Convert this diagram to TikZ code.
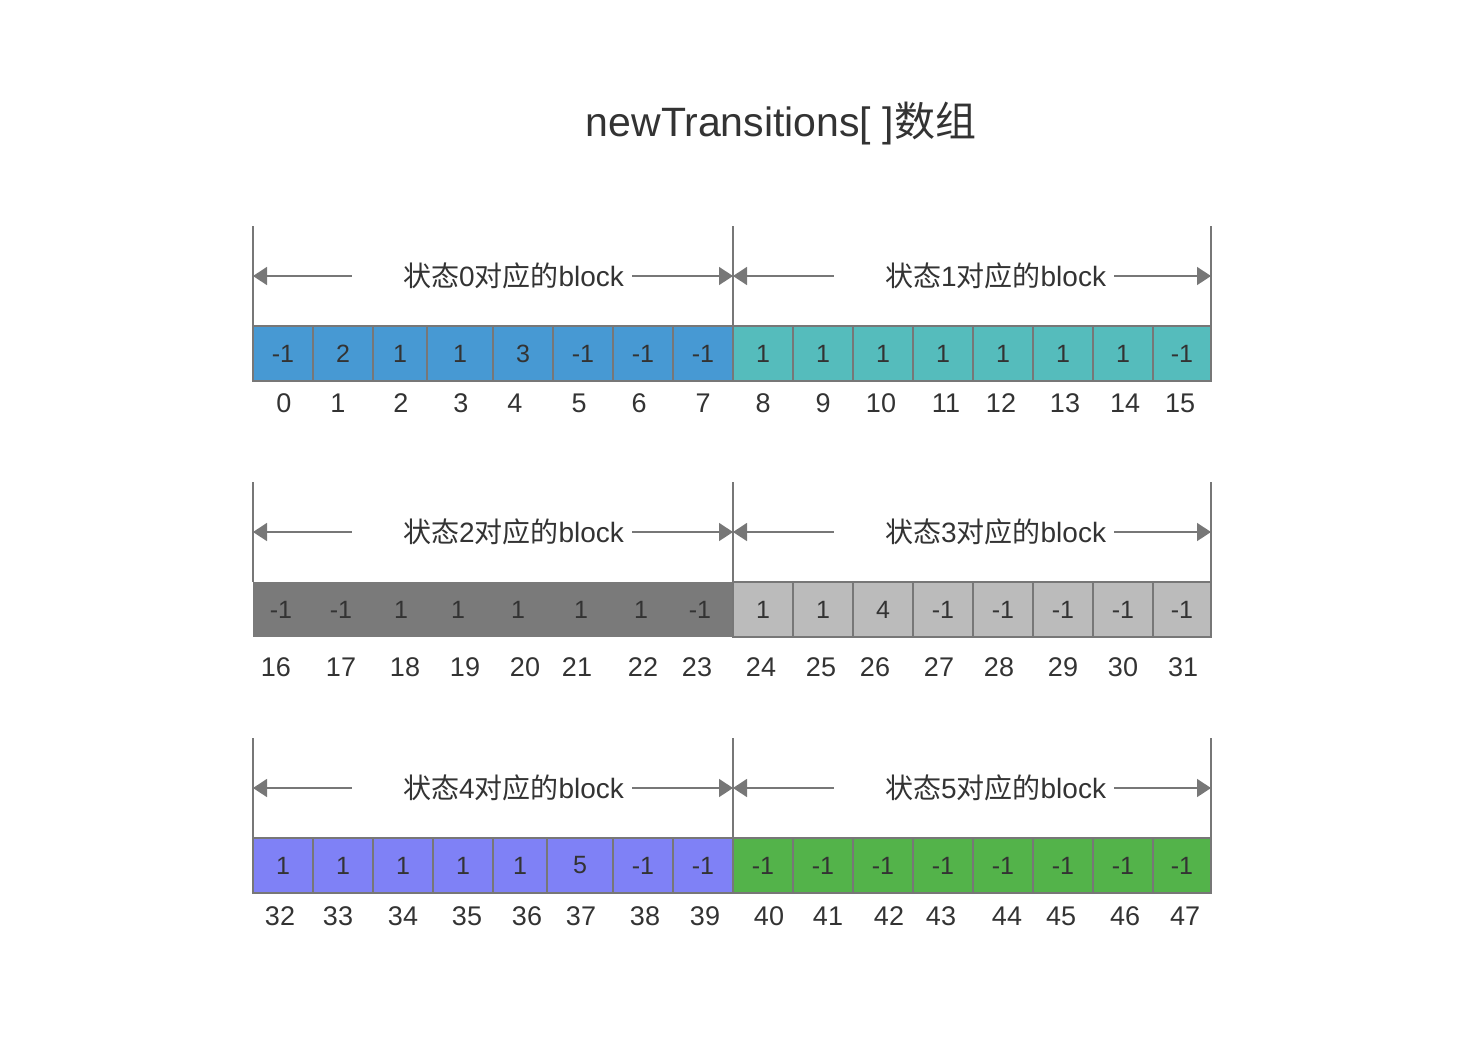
\documentclass[tikz,border=0pt]{standalone}
\usepackage{fontspec}
\setmainfont{Liberation Sans}
\newfontfamily\cjk{Noto Sans CJK SC}
\usetikzlibrary{arrows.meta}

\definecolor{txtgray}{HTML}{333333}
\definecolor{linegray}{HTML}{777777}
\definecolor{cellblue}{HTML}{4799D3}
\definecolor{cellteal}{HTML}{55BCBC}
\definecolor{celldark}{HTML}{7A7A7A}
\definecolor{celllight}{HTML}{BBBBBB}
\definecolor{cellviolet}{HTML}{7F81F6}
\definecolor{cellgreen}{HTML}{53B34A}

\begin{document}
\begin{tikzpicture}[x=0.5pt, y=-0.5pt, text=txtgray,
    cell/.style={draw=linegray, line width=1pt, inner sep=0pt, outer sep=0pt,
                 minimum height=27.5pt, font=\fontsize{12.5}{13}\selectfont},
    val/.style={inner sep=0pt, font=\fontsize{12.5}{13}\selectfont},
    idx/.style={inner sep=0pt, font=\fontsize{13.5}{14}\selectfont},
    blklabel/.style={minimum width=140pt, text width=132pt, align=right,
                     inner xsep=4pt, font=\fontsize{14}{16}\selectfont},
    dim/.style={draw=linegray, line width=0.75pt, -{Triangle[length=7pt,width=9pt]}},
    edge/.style={draw=linegray, line width=1pt}]
\useasboundingbox (0,0) rectangle (1482,1062);

% title
\node[font=\fontsize{20.5}{22}\selectfont] (title) at (781,124) {newTransitions[ ]{\cjk 数组}};

% row 1: states 0 and 1
\foreach \i/\xa/\xb/\v in {0/253/313/-1, 1/313/373/2, 2/373/427/1, 3/427/493/1,
                           4/493/553/3, 5/553/613/-1, 6/613/673/-1, 7/673/733/-1}
  \node[cell, fill=cellblue, minimum width={(\xb-\xa)*0.5pt}] (c\i) at ({(\xa+\xb)/2},353.5) {\v};
\foreach \i/\xa/\xb/\v in {8/733/793/1, 9/793/853/1, 10/853/913/1, 11/913/973/1,
                           12/973/1033/1, 13/1033/1093/1, 14/1093/1153/1, 15/1153/1211/-1}
  \node[cell, fill=cellteal, minimum width={(\xb-\xa)*0.5pt}] (c\i) at ({(\xa+\xb)/2},353.5) {\v};
\foreach \i/\x in {0/284, 1/338, 2/401, 3/461, 4/515, 5/579, 6/639, 7/703,
                   8/763, 9/823, 10/881, 11/946, 12/1001, 13/1065, 14/1125, 15/1180}
  \node[idx] (n\i) at (\x,403) {\i};

% row 2: states 2 and 3
\node[fill=celldark, inner sep=0pt, minimum width=240pt, minimum height=27.5pt] (dark) at (493,609.5) {};
\foreach \i/\x/\v in {16/281/-1, 17/341/-1, 18/401/1, 19/458/1,
                      20/518/1, 21/581/1, 22/641/1, 23/700/-1}
  \node[val] (c\i) at (\x,609.5) {\v};
\foreach \i/\xa/\xb/\v in {24/733/793/1, 25/793/853/1, 26/853/913/4, 27/913/973/-1,
                           28/973/1033/-1, 29/1033/1093/-1, 30/1093/1153/-1, 31/1153/1211/-1}
  \node[cell, fill=celllight, minimum width={(\xb-\xa)*0.5pt}] (c\i) at ({(\xa+\xb)/2},609.5) {\v};
\foreach \i/\x in {16/276, 17/341, 18/405, 19/465, 20/525, 21/577, 22/643, 23/697,
                   24/761, 25/821, 26/875, 27/939, 28/999, 29/1063, 30/1123, 31/1183}
  \node[idx] (n\i) at (\x,667) {\i};

% row 3: states 4 and 5
\foreach \i/\xa/\xb/\v in {32/253/313/1, 33/313/373/1, 34/373/433/1, 35/433/493/1,
                           36/493/547/1, 37/547/613/5, 38/613/673/-1, 39/673/733/-1}
  \node[cell, fill=cellviolet, minimum width={(\xb-\xa)*0.5pt}] (c\i) at ({(\xa+\xb)/2},865.5) {\v};
\foreach \i/\xa/\xb/\v in {40/733/793/-1, 41/793/853/-1, 42/853/913/-1, 43/913/973/-1,
                           44/973/1033/-1, 45/1033/1093/-1, 46/1093/1153/-1, 47/1153/1211/-1}
  \node[cell, fill=cellgreen, minimum width={(\xb-\xa)*0.5pt}] (c\i) at ({(\xa+\xb)/2},865.5) {\v};
\foreach \i/\x in {32/280, 33/338, 34/403, 35/467, 36/527, 37/581, 38/645, 39/705,
                   40/769, 41/828, 42/889, 43/941, 44/1007, 45/1061, 46/1125, 47/1185}
  \node[idx] (n\i) at (\x,916) {\i};

% block headers
\foreach \r/\y/\sa/\sb in {0/326/0/1, 1/582/2/3, 2/838/4/5} {
  \coordinate (tl\r) at (253,\y-100);
  \coordinate (tm\r) at (733,\y-100);
  \coordinate (tr\r) at (1211,\y-100);
  \coordinate (bl\r) at (253,\y);
  \coordinate (bm\r) at (733,\y);
  \coordinate (br\r) at (1211,\y);
  \coordinate (al\r) at (253,\y-50);
  \coordinate (am\r) at (733,\y-50);
  \coordinate (ar\r) at (1211,\y-50);
  \draw[edge] (tl\r) -- (bl\r);
  \draw[edge] (tm\r) -- (bm\r);
  \draw[edge] (tr\r) -- (br\r);
  \node[blklabel] (lab\sa) at (492,\y-50) {{\cjk 状态}\sa{\cjk 对应的}block};
  \node[blklabel] (lab\sb) at (974,\y-50) {{\cjk 状态}\sb{\cjk 对应的}block};
  \draw[dim] (lab\sa.west) -- (al\r);
  \draw[dim] (lab\sa.east) -- (am\r);
  \draw[dim] (lab\sb.west) -- (am\r);
  \draw[dim] (lab\sb.east) -- (ar\r);
}
\end{tikzpicture}
\end{document}
